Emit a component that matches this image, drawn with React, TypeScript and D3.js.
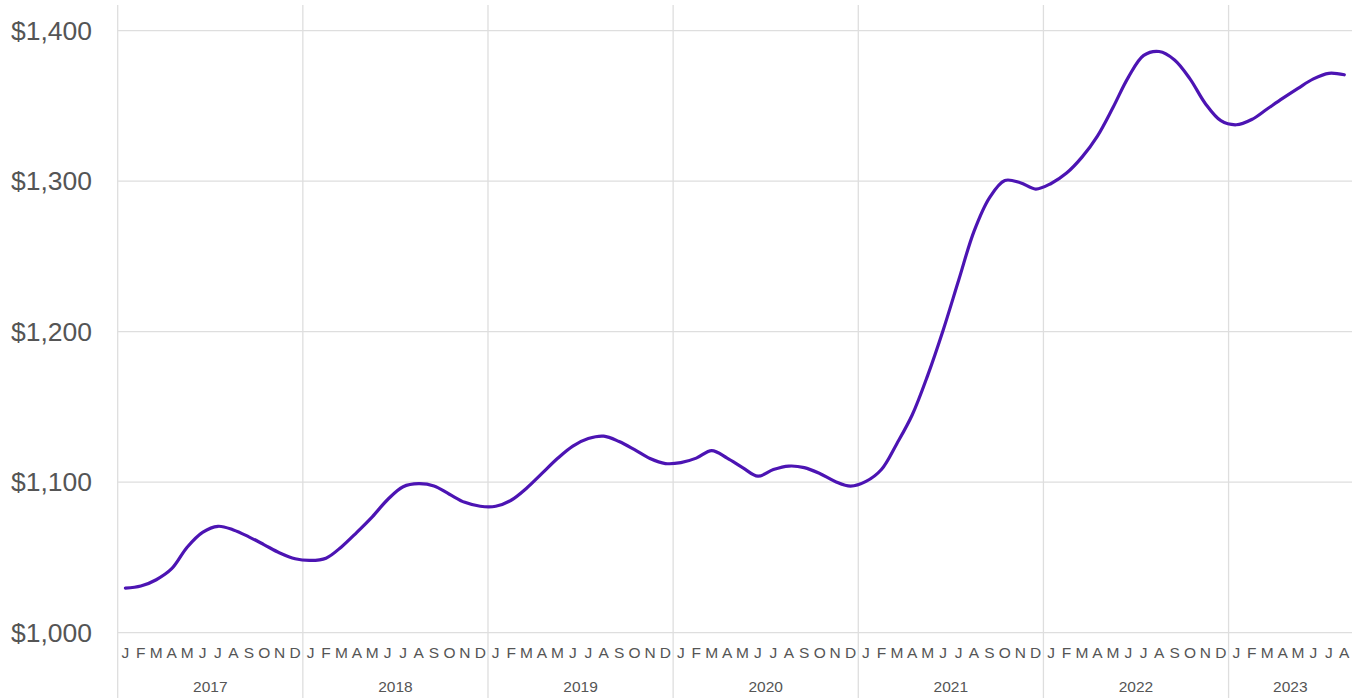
import React from "react";
import * as d3 from "d3";

const years = ["2017", "2018", "2019", "2020", "2021", "2022", "2023"];
const monthLetters = ["J", "F", "M", "A", "M", "J", "J", "A", "S", "O", "N", "D"];
const yTicks = [1000, 1100, 1200, 1300, 1400];

const values2017 = [1029.6, 1031, 1035.2, 1042.5, 1056.8, 1066.7, 1070.7, 1068.3, 1063.7, 1058.4, 1053, 1049.1];
const values2018 = [1048, 1049.5, 1057, 1066.7, 1077, 1088.5, 1097, 1099, 1097.5, 1092, 1086.6, 1084];
const values2019 = [1084, 1088, 1096, 1105.8, 1115.7, 1124, 1129, 1130.6, 1127, 1121.6, 1115.7, 1112.4];
const values2020 = [1113, 1116, 1121, 1116, 1109.7, 1104, 1108.4, 1110.7, 1109.7, 1105.8, 1100.5, 1097.4];
const values2021 = [1100.5, 1108.4, 1125.6, 1144.8, 1171, 1201, 1234, 1266.7, 1289, 1300.5, 1299, 1294.8];
const values2022 = [1298.5, 1305.4, 1316, 1330, 1348.8, 1369, 1383.6, 1386.2, 1380.6, 1368, 1351.5, 1340.2];
const values2023 = [1337.5, 1341, 1348, 1355, 1361.7, 1368, 1371.7, 1370.7];

const series = [
  ...values2017,
  ...values2018,
  ...values2019,
  ...values2020,
  ...values2021,
  ...values2022,
  ...values2023,
];

const W = 1352;
const H = 698;
const left = 117.7;
const right = 1352;
const totalMonths = series.length; // 80

export default function App() {
  const x = d3.scaleLinear().domain([0, totalMonths]).range([left, right]);
  const y = d3.scaleLinear().domain([1000, 1400]).range([632.7, 30.7]);

  const line = d3
    .line<number>()
    .x((_, i) => x(i + 0.5))
    .y((d) => y(d))
    .curve(d3.curveCatmullRom.alpha(0.5));

  const font = "'Liberation Sans', Arial, Helvetica, sans-serif";
  const textColor = "#555";
  const gridColor = "#dedede";

  const monthLabels = series.map((_, i) => ({
    i,
    letter: monthLetters[i % 12],
  }));

  return (
    <svg
      width={W}
      height={H}
      style={{ position: "absolute", left: 0, top: 0, background: "#fff" }}
    >
      {yTicks.map((t) => (
        <line
          key={"h" + t}
          x1={left}
          x2={right}
          y1={y(t)}
          y2={y(t)}
          stroke={gridColor}
          strokeWidth={1.3}
        />
      ))}
      {years.map((yr, k) => (
        <line
          key={"v" + yr}
          x1={x(k * 12)}
          x2={x(k * 12)}
          y1={5}
          y2={H}
          stroke={gridColor}
          strokeWidth={1.3}
        />
      ))}
      {yTicks.map((t) => (
        <text
          key={"yl" + t}
          x={92}
          y={y(t)}
          dy="0.35em"
          textAnchor="end"
          fontFamily={font}
          fontSize={26.5}
          fill={textColor}
        >
          {d3.format("$,")(t)}
        </text>
      ))}
      {monthLabels.map((m) => (
        <text
          key={"m" + m.i}
          x={x(m.i + 0.5)}
          y={653}
          dy="0.35em"
          textAnchor="middle"
          fontFamily={font}
          fontSize={15.5}
          fill={textColor}
        >
          {m.letter}
        </text>
      ))}
      {years.map((yr, k) => {
        const start = k * 12;
        const end = Math.min((k + 1) * 12, totalMonths);
        return (
          <text
            key={"yr" + yr}
            x={(x(start) + x(end)) / 2}
            y={687}
            dy="0.35em"
            textAnchor="middle"
            fontFamily={font}
            fontSize={15.5}
            fill={textColor}
          >
            {yr}
          </text>
        );
      })}
      <path
        d={line(series) || ""}
        fill="none"
        stroke="#4c14b3"
        strokeWidth={3.2}
        strokeLinejoin="round"
        strokeLinecap="round"
      />
    </svg>
  );
}
